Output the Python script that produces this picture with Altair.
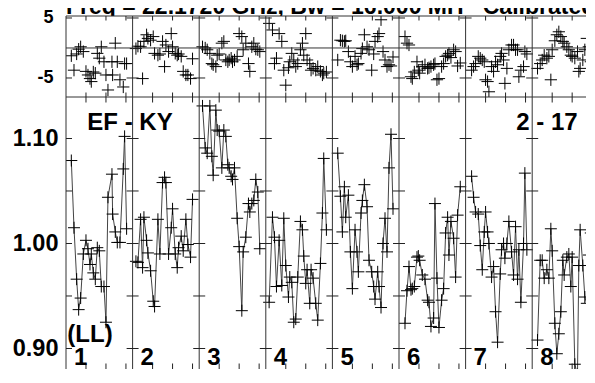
import altair as alt
import pandas as pd

# ---------------- data ----------------
TITLE = "Freq = 22.1720 GHz, Bw = 16.000 MH\u00a0\u00a0\u00a0Calibrated"
BASELINE = "EF - KY"
STOKES = "(LL)"
SOURCE = "2 - 17"
SEG_LABELS = ["1", "2", "3", "4", "5", "6", "7", "8"]

S1_F = [0.08, 0.12, 0.16, 0.19, 0.22, 0.26, 0.30, 0.33, 0.36, 0.38, 0.41, 0.44, 0.47, 0.50, 0.53, 0.57, 0.60, 0.63, 0.69, 0.70, 0.74, 0.77, 0.81, 0.86, 0.88, 0.91]
S1_A = [1.079, 1.015, 0.966, 0.937, 0.948, 0.990, 1.003, 0.995, 0.980, 0.990, 0.972, 0.966, 0.996, 0.993, 0.959, 0.959, 0.925, 1.044, 1.066, 1.028, 1.011, 1.001, 1.001, 1.071, 1.102, 1.014]
S1_P = [-1.3, -3.7, -1.0, -0.2, 0.2, -0.6, -3.9, -4.5, -5.1, -5.6, -4.0, -4.2, -0.9, -1.7, 0.2, -2.3, -4.5, -7.0, -2.3, -4.5, 0.8, -2.3, -5.3, -6.5, -2.6, -2.6]

S2_F = [0.05, 0.08, 0.12, 0.15, 0.17, 0.21, 0.23, 0.27, 0.31, 0.33, 0.38, 0.41, 0.45, 0.48, 0.50, 0.54, 0.58, 0.60, 0.64, 0.67, 0.69, 0.73, 0.76, 0.80, 0.83, 0.87, 0.90]
S2_A = [0.983, 0.982, 1.023, 0.977, 1.025, 1.003, 0.991, 0.974, 0.945, 0.940, 1.023, 0.990, 1.058, 1.063, 1.058, 0.990, 1.015, 1.033, 0.990, 0.977, 0.996, 1.007, 0.993, 1.023, 0.999, 0.987, 1.042]
S2_P = [-0.1, 0.3, 0.2, -5.1, 1.1, 2.2, 1.6, 1.3, 1.9, -0.9, -1.2, -1.0, 1.1, -3.1, 0.5, -0.6, 2.4, 0.2, -0.9, -1.2, -1.0, -1.4, -3.9, -4.5, -4.5, -5.1, -1.8]

S3_F = [0.05, 0.09, 0.12, 0.16, 0.19, 0.21, 0.25, 0.27, 0.30, 0.34, 0.37, 0.40, 0.43, 0.45, 0.48, 0.50, 0.53, 0.57, 0.60, 0.64, 0.66, 0.70, 0.74, 0.76, 0.79, 0.82, 0.85, 0.88, 0.91]
S3_A = [1.131, 1.091, 1.086, 1.131, 1.083, 1.065, 1.127, 1.108, 1.107, 1.072, 1.108, 1.102, 1.075, 1.072, 1.064, 1.061, 1.072, 1.024, 0.997, 0.936, 0.992, 1.006, 1.038, 1.030, 1.038, 1.041, 1.061, 1.049, 0.995]
S3_P = [0.2, 0.0, -0.3, -0.9, -2.6, -2.8, -3.1, -1.2, -1.0, 0.8, 1.1, -2.0, -2.3, -2.0, -1.7, -2.3, -2.0, -1.4, 2.4, 1.9, -0.3, 0.8, -2.6, -3.9, 0.2, 0.8, -0.2, -0.3, -0.6]

S4_F = [0.05, 0.10, 0.13, 0.16, 0.20, 0.24, 0.27, 0.30, 0.34, 0.36, 0.39, 0.42, 0.45, 0.48, 0.52, 0.55, 0.57, 0.60, 0.62, 0.66, 0.68, 0.71, 0.75, 0.78, 0.82, 0.85, 0.87, 0.91]
S4_A = [0.944, 1.025, 1.006, 0.959, 1.003, 0.960, 1.024, 0.979, 0.949, 0.968, 0.963, 0.925, 0.928, 0.968, 1.021, 1.013, 0.988, 0.962, 0.975, 0.943, 0.975, 0.967, 0.943, 0.927, 0.981, 1.029, 1.081, 1.013]
S4_P = [4.1, 3.0, -2.6, -1.7, 2.4, 1.1, -3.7, -6.2, -3.3, -2.3, -0.9, -2.0, -3.1, -2.6, -0.3, 0.8, -1.2, 2.4, -2.0, -2.6, -3.7, -3.4, -3.7, -3.1, -3.9, -4.5, -4.2, -4.0]

S5_F = [0.08, 0.12, 0.15, 0.18, 0.20, 0.24, 0.27, 0.30, 0.34, 0.37, 0.39, 0.43, 0.45, 0.48, 0.52, 0.55, 0.59, 0.62, 0.64, 0.68, 0.70, 0.73, 0.76, 0.79, 0.82, 0.85, 0.88, 0.91]
S5_A = [1.086, 1.045, 1.011, 1.054, 1.025, 1.046, 0.992, 0.957, 1.013, 0.992, 0.973, 1.029, 1.041, 1.056, 1.035, 0.984, 0.973, 0.959, 0.947, 0.973, 0.959, 0.939, 1.000, 1.024, 0.992, 1.072, 1.104, 1.033]
S5_P = [-2.0, 1.3, 1.2, 1.1, 1.2, -0.6, -2.3, -3.1, -1.4, -2.8, -2.6, -0.9, -0.1, 2.2, 0.2, -0.3, -3.7, -1.0, 1.1, 1.9, 2.4, 4.7, -0.6, -2.0, -3.1, -2.8, -3.0, -1.5]

S6_F = [0.09, 0.12, 0.15, 0.18, 0.20, 0.23, 0.27, 0.29, 0.31, 0.35, 0.39, 0.43, 0.45, 0.48, 0.52, 0.54, 0.57, 0.60, 0.64, 0.67, 0.70, 0.73, 0.75, 0.78, 0.82, 0.85, 0.88, 0.92]
S6_A = [0.924, 0.955, 0.978, 0.956, 0.957, 0.959, 0.987, 0.988, 0.984, 0.970, 0.966, 0.946, 0.944, 0.921, 0.929, 1.038, 0.967, 0.920, 0.946, 0.957, 1.010, 1.025, 0.989, 1.021, 1.005, 0.968, 1.027, 1.054]
S6_P = [1.9, 0.8, 0.5, -4.8, -5.1, -4.0, -2.3, -3.7, -4.2, -3.1, -2.8, -3.4, -3.3, -3.1, -2.8, -2.6, -5.3, -5.1, -3.1, -2.6, -1.4, -1.2, -0.9, -1.6, -0.3, -0.6, -3.0, -2.5]

S7_F = [0.09, 0.12, 0.15, 0.19, 0.22, 0.25, 0.28, 0.30, 0.33, 0.35, 0.39, 0.42, 0.45, 0.48, 0.52, 0.54, 0.57, 0.59, 0.62, 0.65, 0.69, 0.72, 0.75, 0.78, 0.80, 0.83, 0.87, 0.89, 0.92]
S7_A = [1.064, 1.044, 1.030, 1.028, 0.998, 0.975, 1.011, 1.030, 1.011, 1.000, 0.968, 0.978, 0.935, 0.906, 0.971, 0.994, 1.000, 0.986, 1.000, 1.021, 0.992, 0.970, 1.016, 0.966, 0.994, 0.944, 1.000, 1.067, 0.994]
S7_P = [-3.7, -3.1, -2.6, -1.4, -1.7, -2.0, -2.3, -5.3, -5.6, -7.3, -3.1, -3.9, -2.3, -2.8, -1.4, -0.9, -2.0, -5.9, -3.4, -0.3, 0.5, 0.5, -0.3, -0.3, -4.8, -3.7, -3.1, -0.6, -1.0]

S8_F = [0.08, 0.12, 0.15, 0.18, 0.22, 0.25, 0.28, 0.30, 0.34, 0.37, 0.40, 0.43, 0.46, 0.48, 0.52, 0.55, 0.58, 0.60, 0.64, 0.68, 0.70, 0.72, 0.76, 0.79, 0.82, 0.85, 0.88, 0.92]
S8_A = [0.908, 0.984, 0.984, 0.967, 0.975, 0.967, 1.014, 0.993, 0.924, 0.895, 0.914, 0.935, 0.984, 0.970, 0.987, 0.990, 0.959, 0.987, 0.885, 0.875, 0.979, 1.013, 0.979, 0.949, 0.943, 0.989, 1.010, 1.006]
S8_P = [-3.4, -2.6, -2.0, -1.2, -1.7, -1.4, -5.3, -0.3, 1.2, 2.2, 2.7, 1.9, 1.1, 0.8, 0.2, -0.3, -1.2, -1.4, -1.7, -0.6, -3.9, -3.4, -2.0, -0.3, 1.6, 0.2, -2.3, -3.4]

PHASE_TICKS = [5, -5]
AMP_TICKS = [1.10, 1.05, 1.00, 0.95, 0.90]
AMP_LABELS = [1.10, 1.00, 0.90]
TIME_TICK_FRACS = [0.3, 0.6, 0.9]

# ---------------- layout / style ----------------
SEG_PX = 66.6                 # pixels per scan segment
W = 520                       # plot width (the reference is cut at the window edge)
TOP_H = 81
BOT_H = 272
X_DOM = [0, W / SEG_PX]
TOP_DOM = [-8.17, 5.33]
AMP_PX = 1050.0               # pixels per amplitude unit
BOT_TOP = 1.1395
BOT_DOM = [BOT_TOP - BOT_H / AMP_PX, BOT_TOP]
FONT = "Liberation Sans"
CROSS = "M-1,0L1,0M0,-1L0,1"
LINE_C = "#333"
TICK_C = "#222"

SEGS = [(S1_F, S1_A, S1_P), (S2_F, S2_A, S2_P), (S3_F, S3_A, S3_P), (S4_F, S4_A, S4_P),
        (S5_F, S5_A, S5_P), (S6_F, S6_A, S6_P), (S7_F, S7_A, S7_P), (S8_F, S8_A, S8_P)]
rows = []
for i, (fs, am, ph) in enumerate(SEGS):
    for f, a, p in zip(fs, am, ph):
        rows.append({"seg": i + 1, "pos": i + f, "amp": a, "ph": p})
df = pd.DataFrame(rows)

n_seg = len(SEGS)
frame_df = pd.DataFrame({"pos": list(range(0, n_seg))})   # left frame + scan separators
xs = alt.Scale(domain=X_DOM, nice=False, zero=False)


def X(field="pos"):
    return alt.X(f"{field}:Q", scale=xs, axis=None)


xt_pos = [i + f for i in range(n_seg) for f in TIME_TICK_FRACS if i + f <= X_DOM[1]]

# ---------- top panel (phase) ----------
sc_top = alt.Scale(domain=TOP_DOM, nice=False, zero=False)
ax_top = alt.Axis(values=PHASE_TICKS,
                  labelExpr="datum.value < 0 ? '-' + abs(datum.value) : '' + datum.value",
                  labelFont=FONT, labelFontSize=18, labelFontWeight="bold", labelColor="black",
                  labelPadding=13, ticks=False, domain=False, grid=False, title=None)


def YT(field):
    return alt.Y(f"{field}:Q", scale=sc_top, axis=ax_top)


top_h = alt.Chart(pd.DataFrame({"v": [0.0, TOP_DOM[0], TOP_DOM[1]]})).mark_rule(
    color=LINE_C, strokeWidth=1).encode(y=YT("v"))
top_seps = alt.Chart(frame_df).mark_rule(color=LINE_C, strokeWidth=1).encode(x=X())
top_yt = alt.Chart(pd.DataFrame([{"pos": float(i), "v": v} for i in range(n_seg) for v in PHASE_TICKS])).mark_tick(
    orient="horizontal", size=12, thickness=1, color=TICK_C, opacity=1, clip=True).encode(x=X(), y=YT("v"))
top_xt = alt.Chart(pd.DataFrame([{"pos": p, "v": v} for p in xt_pos for v in TOP_DOM])).mark_tick(
    orient="vertical", size=9, thickness=1, color=TICK_C, opacity=1, clip=True).encode(x=X(), y=YT("v"))
top_pts = alt.Chart(df).mark_point(shape=CROSS, size=150, filled=False, strokeWidth=1, color="black",
                                   opacity=1, clip=True).encode(x=X(), y=YT("ph"))
top = alt.layer(top_pts, top_h, top_seps, top_yt, top_xt).properties(width=W, height=TOP_H)

# ---------- bottom panel (amplitude) ----------
sc_bot = alt.Scale(domain=BOT_DOM, nice=False, zero=False)
ax_bot = alt.Axis(values=AMP_LABELS, format=".2f",
                  labelFont=FONT, labelFontSize=23.5, labelFontWeight="bold", labelColor="black",
                  labelPadding=8, ticks=False, domain=False, grid=False, title=None)


def YB(field):
    return alt.Y(f"{field}:Q", scale=sc_bot, axis=ax_bot)


bot_seps = alt.Chart(frame_df).mark_rule(color=LINE_C, strokeWidth=1).encode(x=X())
bot_yt = alt.Chart(pd.DataFrame([{"pos": float(i), "v": v} for i in range(n_seg) for v in AMP_TICKS])).mark_tick(
    orient="horizontal", size=12, thickness=1, color=TICK_C, opacity=1, clip=True).encode(x=X(), y=YB("v"))
bot_xt = alt.Chart(pd.DataFrame([{"pos": p, "v": v} for p in xt_pos for v in BOT_DOM])).mark_tick(
    orient="vertical", size=11, thickness=1, color=TICK_C, opacity=1, clip=True).encode(x=X(), y=YB("v"))
bot_line = alt.Chart(df).mark_line(color="#444", strokeWidth=1, clip=True).encode(
    x=X(), y=YB("amp"), detail="seg:N")
bot_pts = alt.Chart(df).mark_point(shape=CROSS, size=144, filled=False, strokeWidth=1, color="black",
                                   opacity=1, clip=True).encode(x=X(), y=YB("amp"))

ann = pd.DataFrame(
    [{"pos": 0.32, "v": 1.108, "t": BASELINE},
     {"pos": 6.76, "v": 1.108, "t": SOURCE},
     {"pos": 0.02, "v": 0.9062, "t": STOKES}]
    + [{"pos": i + 0.12, "v": 0.8840, "t": s} for i, s in enumerate(SEG_LABELS)]
)
bot_txt = alt.Chart(ann).mark_text(align="left", baseline="alphabetic", font=FONT, fontSize=24,
                                   fontWeight="bold", color="black", clip=True).encode(
    x=X(), y=YB("v"), text="t:N")
bottom = alt.layer(bot_line, bot_pts, bot_seps, bot_yt, bot_xt, bot_txt).properties(width=W, height=BOT_H)

# ---------- title strip (partly cut at the top as in the reference) ----------
strip = alt.Chart(pd.DataFrame({"t": [TITLE]})).mark_text(
    align="left", baseline="alphabetic", font=FONT, fontSize=23, fontWeight="bold", color="black", clip=True
).encode(x=alt.value(0), y=alt.value(6), text="t:N").properties(width=W, height=8)

chart = alt.vconcat(strip, top, bottom, spacing=0, bounds="flush").properties(
    padding={"left": 4, "right": 0, "top": 0, "bottom": 0}
).configure_view(stroke="transparent", strokeWidth=0)

chart.save("out.html", embed_options={"renderer": "svg", "actions": False})
